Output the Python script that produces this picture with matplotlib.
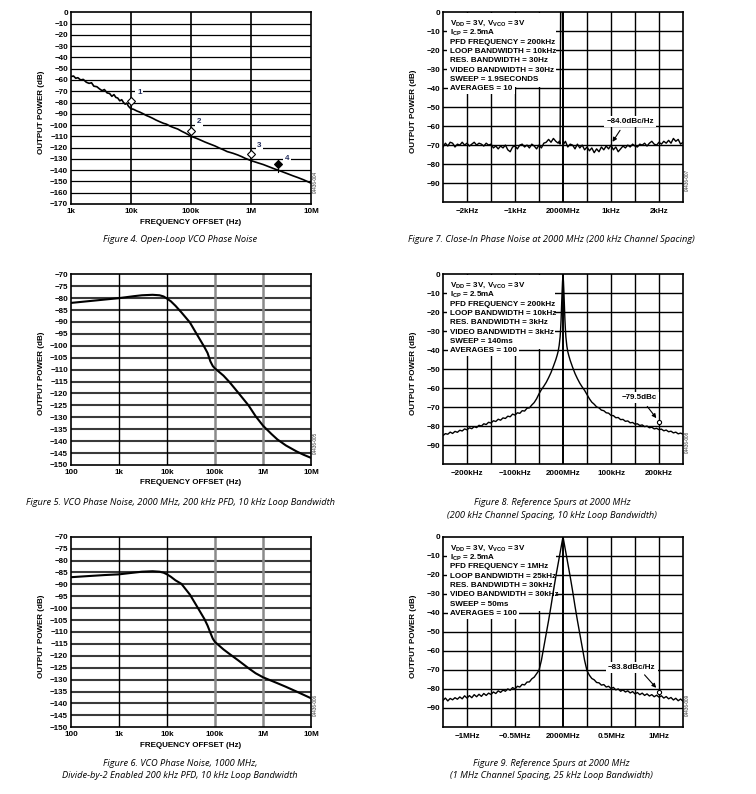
"""Datasheet page: VCO phase noise and reference spur plots (Figures 4-9)"""
import matplotlib
matplotlib.use('Agg')
import matplotlib.pyplot as plt
from matplotlib.patches import Rectangle

plt.rcParams['font.family'] = ['Liberation Sans', 'DejaVu Sans']
plt.rcParams['font.weight'] = 'bold'
plt.rcParams['mathtext.fontset'] = 'custom'
plt.rcParams['mathtext.rm'] = 'Liberation Sans:bold'
plt.rcParams['mathtext.it'] = 'Liberation Sans:bold'
plt.rcParams['mathtext.bf'] = 'Liberation Sans:bold'

W, H = 756, 794

# ---- Figure 4: open-loop VCO phase noise
f4_freq = [1000, 1100, 1200, 1300, 1450, 1600, 1800, 2000, 2200, 2400, 2700, 3000, 3300,
           3600, 4000, 4400, 4800, 5200, 5600, 6000, 6500, 7000, 7500, 8000, 8500, 9000,
           9500, 10000, 11000, 12500, 14000, 16000, 18000, 20000, 23000, 26000, 30000,
           35000, 38000, 40000, 45000, 50000, 60000, 70000, 80000, 90000, 100000, 120000,
           140000, 170000, 200000, 250000, 300000, 350000, 400000, 500000, 600000, 700000,
           800000, 1000000, 1300000, 1600000, 2000000, 2500000, 3000000, 4000000, 5000000,
           6000000, 7500000, 10000000]
f4_db = [-57, -56.5, -58.5, -58, -60, -59.5, -62, -63, -62.5, -65.5, -66, -68, -69.5,
         -68.5, -71.5, -72, -74.5, -73, -75.5, -76, -78.5, -77.5, -80, -81.5, -80.5, -83,
         -84.5, -85.5, -86, -87.5, -88.5, -90, -91.5, -92.5, -94, -95.5, -97,
         -98.5, -99, -99.5, -101, -102, -103.5, -105.5, -107, -108.5, -110, -111.5,
         -113, -115, -116.5, -118.5, -120.5, -122, -123.5, -125, -126.5, -128,
         -129.5, -131.5, -133.5, -135, -137, -139, -140.5, -143, -145,
         -146.5, -148.5, -151.5]
f4_mark_f = [10000, 100000, 1000000, 2850000]
f4_mark_db = [-78.5, -105, -125.5, -134.5]
f4_lab_f = [12600, 124000, 1270000, 3700000]
f4_lab_db = [-71.5, -97, -118.5, -129.5]
f4_lab_txt = ['1', '2', '3', '4']

# ---- Figure 5 / 6: closed-loop VCO phase noise
f5_freq = [100, 200, 500, 1000, 2000, 3000, 5000, 7000, 8500, 10000, 12000, 15000, 20000,
           30000, 40000, 50000, 60000, 70000, 80000, 90000, 100000, 150000, 200000, 300000,
           500000, 700000, 1000000, 1500000, 2000000, 3000000, 5000000, 7000000, 10000000]
f5_db = [-82, -81.4, -80.6, -80, -79.2, -78.8, -78.6, -78.8, -79.3, -80.2, -81.3, -83.2, -86,
         -90.2, -94.5, -97.8, -100.5, -103, -106.5, -108.5, -109.5, -112.5, -115.2, -119.5,
         -125, -129.5, -133.5, -137, -139.3, -141.8, -144.3, -145.7, -147]
f6_freq = [100, 200, 500, 1000, 2000, 3000, 5000, 7000, 8500, 10000, 12000, 15000, 20000,
           30000, 40000, 50000, 60000, 70000, 80000, 90000, 100000, 150000, 200000, 300000,
           500000, 700000, 1000000, 2000000, 3000000, 5000000, 10000000]
f6_db = [-87, -86.6, -86.1, -85.8, -85.1, -84.7, -84.5, -84.7, -85.1, -85.8, -86.8, -88.3, -89.8,
         -94.3, -98.5, -101.8, -104.5, -107.3, -110.3, -112.8, -114.2, -117.3, -119.2, -121.8,
         -125.2, -127.3, -129, -131.5, -133, -135, -137.8]

# ---- Figure 7: close-in phase noise (offset in kHz)
f7_off = [-2.5, -2.45, -2.4, -2.35, -2.3, -2.25, -2.2, -2.15, -2.1, -2.05, -2.0, -1.95, -1.9,
          -1.85, -1.8, -1.75, -1.7, -1.65, -1.6, -1.55, -1.5, -1.45, -1.4, -1.35, -1.3, -1.25,
          -1.2, -1.15, -1.1, -1.05, -1.0, -0.95, -0.9, -0.85, -0.8, -0.75, -0.7, -0.65, -0.6,
          -0.55, -0.5, -0.45, -0.4, -0.35, -0.3, -0.25, -0.2, -0.15, -0.1, -0.08, -0.06,
          -0.05, -0.01, 0.0, 0.05, 0.1, 0.15, 0.2, 0.25, 0.3, 0.35, 0.4, 0.45, 0.5, 0.55, 0.6,
          0.65, 0.7, 0.75, 0.8, 0.85, 0.9, 0.95, 1.0, 1.05, 1.1, 1.15, 1.2, 1.25, 1.3, 1.35,
          1.4, 1.45, 1.5, 1.55, 1.6, 1.65, 1.7, 1.75, 1.8, 1.85, 1.9, 1.95, 2.0, 2.05, 2.1,
          2.15, 2.2, 2.25, 2.3, 2.35, 2.4, 2.45, 2.5]
f7_db = [-71, -69, -70.5, -68.5, -69, -71, -69.5, -70, -68.5, -70, -69, -70.5, -69.5,
         -68.5, -70, -69, -69.5, -70.5, -69, -70, -69.5, -71.5, -70.5, -72, -70.5, -71.5,
         -70, -72.5, -73.5, -71, -70.5, -72, -70, -69.5, -71, -70, -71.5, -69.5, -70.5,
         -72, -70, -71.5, -69, -68.5, -67, -68.5, -66.5, -68, -69, -68, -69.5,
         0.5, 0.5, -70, -68, -71, -69.5, -70, -72, -69.5, -71.5, -70, -72.5, -71, -73, -71.5,
         -74, -72, -73.5, -71, -72.5, -70.5, -72, -70, -72.5, -71, -73.5, -72, -70.5, -71.5, -70,
         -71, -69.5, -70.5, -71, -69.5, -70, -69, -70.5, -69, -68, -69.5, -70, -68.5, -69.5, -68,
         -69, -67.5, -69, -66.5, -68, -67, -69.5, -68.5]

# ---- Figure 8: reference spurs, 200 kHz spacing (offset in kHz)
f8_off = [-250, -245, -240, -235, -230, -225, -220, -215, -210, -205, -200, -195, -190, -185,
          -180, -175, -170, -165, -160, -155, -150, -145, -140, -135, -130, -125, -120, -115,
          -110, -105, -100, -95, -90, -85, -80, -75, -70, -65, -60, -55, -50, -45, -40, -35,
          -30, -25, -20, -15, -12, -10, -8, -6, -5, -4, -3, -2, -1, 0, 1, 2, 3, 4, 5, 6, 8,
          10, 12, 15, 20, 25, 30, 35, 40, 45, 50, 55, 60, 65, 70, 75, 80, 85, 90, 95, 100, 105,
          110, 115, 120, 125, 130, 135, 140, 145, 150, 155, 160, 165, 170, 175, 180, 185, 190,
          195, 200, 205, 210, 215, 220, 225, 230, 235, 240, 245, 250]
f8_db = [-85.0, -84.0, -84.3, -83.2, -83.9, -82.8, -83.3, -82.2, -82.6, -81.5, -82.0, -80.9,
         -81.4, -80.3, -80.8, -79.6, -80.0, -78.8, -79.2, -78.0, -78.4, -77.2, -77.6, -76.4,
         -76.9, -75.7, -76.0, -74.8, -75.1, -73.7, -74.2, -73.0, -73.3, -71.9, -72.1, -70.6,
         -70.4, -68.9, -67.6, -65.6, -63.0, -60.8, -59.0, -57.0, -54.5, -51.8, -48.5, -45.0,
         -42.5, -40.5, -37.5, -33, -29, -24, -17, -10, -4, 0, -4, -10, -17, -24, -29, -33,
         -37.8, -40.8, -42.8, -45.4, -49.0, -52.3, -55.0, -57.4, -59.4, -61.2, -63.4, -65.6,
         -67.4, -68.5, -69.9, -70.4, -71.6, -71.9, -73.0, -73.2, -74.4, -74.5, -75.6, -75.5,
         -76.6, -76.5, -77.5, -77.3, -78.3, -78.1, -79.0, -78.8, -79.7, -79.4, -80.3, -80.0,
         -80.9, -80.6, -81.5, -81.2, -81.9, -81.6, -82.5, -82.1, -83.0, -82.7, -83.6, -83.2,
         -84.1, -83.7, -84.3]

# ---- Figure 9: reference spurs, 1 MHz spacing (offset in MHz)
f9_off = [-1.25, -1.225, -1.2, -1.175, -1.15, -1.125, -1.1, -1.075, -1.05, -1.025, -1.0,
          -0.975, -0.95, -0.925, -0.9, -0.875, -0.85, -0.825, -0.8, -0.775, -0.75, -0.725,
          -0.7, -0.675, -0.65, -0.625, -0.6, -0.575, -0.55, -0.525, -0.5, -0.475, -0.45,
          -0.425, -0.4, -0.375, -0.35, -0.325, -0.3, -0.275, -0.25, -0.225, -0.2, -0.175,
          -0.15, -0.125, -0.1, -0.075, -0.05, -0.025, 0.0, 0.025, 0.05, 0.075, 0.1, 0.125,
          0.15, 0.175, 0.2, 0.225, 0.25, 0.275, 0.3, 0.325, 0.35, 0.375, 0.4, 0.425, 0.45,
          0.475, 0.5, 0.525, 0.55, 0.575, 0.6, 0.625, 0.65, 0.675, 0.7, 0.725, 0.75, 0.775,
          0.8, 0.825, 0.85, 0.875, 0.9, 0.925, 0.95, 0.975, 1.0, 1.025, 1.05, 1.075, 1.1,
          1.125, 1.15, 1.175, 1.2, 1.225, 1.25]
f9_db = [-86.0, -84.8, -86.3, -85.0, -85.7, -84.6, -85.4, -84.2, -85.2, -83.6, -84.8,
         -83.5, -84.6, -83.0, -84.1, -82.8, -83.9, -82.4, -83.4, -82.2, -82.9, -81.6,
         -82.4, -81.0, -81.8, -80.6, -81.2, -80.0, -80.7, -79.3, -80.0, -78.6, -79.0,
         -77.6, -77.9, -76.4, -76.3, -74.7, -73.8, -72.0, -70.2, -65, -58, -51,
         -44, -36.5, -28.5, -21, -14, -7, 0, -7, -14, -21, -28.5, -36.5,
         -44, -51, -58, -65, -70.4, -72.8, -74.5, -75.2, -76.6, -76.8, -78.0, -77.7, -79.0,
         -78.6, -79.8, -79.2, -80.5, -80.0, -81.2, -80.5, -81.6, -81.0, -82.1, -81.4, -82.6, -81.9,
         -83.0, -82.2, -83.4, -82.6, -83.7, -83.0, -84.1, -83.3, -84.3, -83.6, -84.8, -84.0, -85.2,
         -84.5, -85.8, -84.9, -86.2, -85.3, -86.5]

box7 = ['V$_{\\mathrm{DD}}$ = 3V, V$_{\\mathrm{VCO}}$ = 3V', 'I$_{\\mathrm{CP}}$ = 2.5mA',
        'PFD FREQUENCY = 200kHz', 'LOOP BANDWIDTH = 10kHz', 'RES. BANDWIDTH = 30Hz',
        'VIDEO BANDWIDTH = 30Hz', 'SWEEP = 1.9SECONDS', 'AVERAGES = 10']
box8 = ['V$_{\\mathrm{DD}}$ = 3V, V$_{\\mathrm{VCO}}$ = 3V', 'I$_{\\mathrm{CP}}$ = 2.5mA',
        'PFD FREQUENCY = 200kHz', 'LOOP BANDWIDTH = 10kHz', 'RES. BANDWIDTH = 3kHz',
        'VIDEO BANDWIDTH = 3kHz', 'SWEEP = 140ms', 'AVERAGES = 100']
box9 = ['V$_{\\mathrm{DD}}$ = 3V, V$_{\\mathrm{VCO}}$ = 3V', 'I$_{\\mathrm{CP}}$ = 2.5mA',
        'PFD FREQUENCY = 1MHz', 'LOOP BANDWIDTH = 25kHz', 'RES. BANDWIDTH = 30kHz',
        'VIDEO BANDWIDTH = 30kHz', 'SWEEP = 50ms', 'AVERAGES = 100']

FS = 5.8
MINUS = '\u2212'


def rect(l, t, r, b):
    return [l / W, 1 - b / H, (r - l) / W, (b - t) / H]


def neg(v):
    return str(v).replace('-', MINUS)


def common(ax, fig, l, t, r, b, ident):
    ax.tick_params(length=0, labelsize=FS)
    ax.tick_params(axis='y', pad=2.2)
    for s in ax.spines.values():
        s.set_linewidth(1.2)
        s.set_zorder(6)
    cy = (t + b) / 2 + 4
    fig.text((l - 29.5) / W, 1 - cy / H, 'OUTPUT POWER (dB)', rotation=90,
             ha='center', va='center', fontsize=FS)
    fig.text((r + 4.5) / W, 1 - (b - 22) / H, ident, rotation=90, ha='center',
             va='center', fontsize=3.3, weight='normal', color='#333333')


def caption(fig, x, y, s):
    fig.text(x / W, 1 - y / H, s, ha='center', va='center', fontsize=6.7,
             family=['Open Sans', 'DejaVu Sans'], style='italic', weight='normal')


def log_plot(fig, box, xlim, ylim, ystep, xt, xtl, hgrid_style, vgrid_styles, ident):
    l, t, r, b = box
    ax = fig.add_axes(rect(l, t, r, b))
    ax.set_xscale('log')
    ax.set_xlim(*xlim)
    ax.set_ylim(*ylim)
    yt = list(range(ylim[0], ylim[1] + 1, ystep))
    for y in yt[1:-1]:
        ax.axhline(y, zorder=1, **hgrid_style)
    for x, st in zip(xt[1:-1], vgrid_styles):
        ax.axvline(x, zorder=1, **st)
    ax.set_yticks(yt)
    ax.set_yticklabels([neg(v) for v in yt])
    ax.set_xticks(xt)
    ax.set_xticklabels(xtl)
    ax.minorticks_off()
    ax.tick_params(axis='x', pad=3.0)
    common(ax, fig, l, t, r, b, ident)
    fig.text((l + r) / 2 / W, 1 - (b + 18) / H, 'FREQUENCY OFFSET (Hz)',
             ha='center', va='center', fontsize=FS)
    return ax


def spec_plot(fig, box, off, db, half, step, xt, xtl, lines, ident, box_right):
    l, t, r, b = box
    ax = fig.add_axes(rect(l, t, r, b))
    ax.set_xlim(-half, half)
    ax.set_ylim(-100, 0)
    for y in range(-90, 0, 10):
        ax.axhline(y, color='black', lw=1.0, zorder=1)
    n = int(round(2 * half / step))
    for i in range(1, n):
        x = -half + i * step
        ax.axvline(x, color='black', lw=1.4 if abs(x) < 1e-9 else 1.0, zorder=1)
    ax.set_yticks(list(range(-90, 1, 10)))
    ax.set_yticklabels([neg(v) for v in range(-90, 1, 10)])
    ax.set_xticks(xt)
    ax.set_xticklabels(xtl)
    ax.tick_params(axis='x', pad=4.2)
    common(ax, fig, l, t, r, b, ident)
    # white legend panel over the grid
    ax.add_patch(Rectangle((0.015, 0.607), box_right - 0.015, 0.39, transform=ax.transAxes,
                           facecolor='white', edgecolor='none', zorder=2))
    y0 = 1 - 11.5 / (b - t)
    dy = 9.3 / (b - t)
    for i, s in enumerate(lines):
        kw = {}
        if i == len(lines) - 1:
            kw['bbox'] = dict(facecolor='white', edgecolor='none', pad=1.5)
        ax.text(0.03, y0 - i * dy, s, transform=ax.transAxes, ha='left', va='center',
                fontsize=FS, zorder=5, **kw)
    ax.plot(off, db, color='black', lw=1.0, zorder=3)
    return ax


fig = plt.figure(figsize=(W / 100, H / 100), dpi=100)

# Figure 4
hg4 = dict(color='black', lw=0.9)
vg4 = [dict(color='black', lw=1.2)] * 3
ax4 = log_plot(fig, (71, 12.3, 311, 204), (1e3, 1e7), (-170, 0), 10,
               [1e3, 1e4, 1e5, 1e6, 1e7], ['1k', '10k', '100k', '1M', '10M'], hg4, vg4,
               '04436-004')
ax4.plot(f4_freq, f4_db, color='black', lw=1.2, zorder=3)
for i in range(4):
    filled = i == 3
    ax4.plot([f4_mark_f[i]] * 2, [f4_mark_db[i] + 3.5, f4_mark_db[i] - 7], color='black',
             lw=0.8, zorder=4)
    ax4.plot(f4_mark_f[i], f4_mark_db[i], marker='D', ms=4,
             mfc='black' if filled else 'white', mec='black', mew=0.8, zorder=5)
    ax4.text(f4_lab_f[i], f4_lab_db[i], f4_lab_txt[i], ha='left', va='center', fontsize=FS,
             color='#1f2a5a', zorder=5,
             bbox=dict(facecolor='white', edgecolor='none', pad=1.2))
caption(fig, 180, 240, 'Figure 4. Open-Loop VCO Phase Noise')

# Figure 5 and 6
hg5 = dict(color='#3a3a3a', lw=1.5)
vg5 = [dict(color='black', lw=1.0), dict(color='black', lw=1.0),
       dict(color='#8a8a8a', lw=1.8), dict(color='#8a8a8a', lw=1.8)]
xt5 = [1e2, 1e3, 1e4, 1e5, 1e6, 1e7]
xtl5 = ['100', '1k', '10k', '100k', '1M', '10M']
ax5 = log_plot(fig, (71, 274.3, 311, 465), (1e2, 1e7), (-150, -70), 5,
               xt5, xtl5, hg5, vg5, '04436-005')
ax5.plot(f5_freq, f5_db, color='black', lw=1.5, zorder=3)
caption(fig, 180, 503, 'Figure 5. VCO Phase Noise, 2000 MHz, 200 kHz PFD, 10 kHz Loop Bandwidth')

ax6 = log_plot(fig, (71, 536.7, 311, 727.3), (1e2, 1e7), (-150, -70), 5,
               xt5, xtl5, hg5, vg5, '04436-006')
ax6.plot(f6_freq, f6_db, color='black', lw=1.5, zorder=3)
caption(fig, 180, 764, 'Figure 6. VCO Phase Noise, 1000 MHz,')
caption(fig, 180, 776, 'Divide-by-2 Enabled 200 kHz PFD, 10 kHz Loop Bandwidth')

# Figure 7
ax7 = spec_plot(fig, (443, 12.3, 683, 202), f7_off, f7_db, 2.5, 0.5, [-2, -1, 0, 1, 2],
                [MINUS + '2kHz', MINUS + '1kHz', '2000MHz', '1kHz', '2kHz'], box7,
                '04436-007', 0.47)
ax7.annotate('', xy=(1.0, -69.5), xytext=(1.22, -61),
             arrowprops=dict(arrowstyle='-|>', color='black', lw=0.8, mutation_scale=6),
             zorder=5)
ax7.text(1.4, -57.6, MINUS + '84.0dBc/Hz', ha='center', va='center', fontsize=FS, zorder=5,
         bbox=dict(facecolor='white', edgecolor='none', pad=1.5))
caption(fig, 551, 240, 'Figure 7. Close-In Phase Noise at 2000 MHz (200 kHz Channel Spacing)')

# Figure 8
ax8 = spec_plot(fig, (443, 274.3, 683, 464), f8_off, f8_db, 250, 50, [-200, -100, 0, 100, 200],
                [MINUS + '200kHz', MINUS + '100kHz', '2000MHz', '100kHz', '200kHz'], box8,
                '04436-008', 0.467)
ax8.plot(200, -78, marker='o', ms=3, mfc='white', mec='black', mew=0.8, zorder=5)
ax8.annotate('', xy=(198, -77), xytext=(172, -68.5),
             arrowprops=dict(arrowstyle='-|>', color='black', lw=0.8, mutation_scale=6),
             zorder=5)
ax8.text(159, -64.8, MINUS + '79.5dBc', ha='center', va='center', fontsize=FS, zorder=5,
         bbox=dict(facecolor='white', edgecolor='none', pad=1.5))
caption(fig, 552, 503, 'Figure 8. Reference Spurs at 2000 MHz')
caption(fig, 552, 515, '(200 kHz Channel Spacing, 10 kHz Loop Bandwidth)')

# Figure 9
ax9 = spec_plot(fig, (443, 536.7, 683, 727), f9_off, f9_db, 1.25, 0.25, [-1, -0.5, 0, 0.5, 1],
                [MINUS + '1MHz', MINUS + '0.5MHz', '2000MHz', '0.5MHz', '1MHz'], box9,
                '04436-009', 0.47)
ax9.plot(1.0, -81.5, marker='o', ms=3, mfc='white', mec='black', mew=0.8, zorder=5)
ax9.annotate('', xy=(0.99, -80.5), xytext=(0.83, -71.5),
             arrowprops=dict(arrowstyle='-|>', color='black', lw=0.8, mutation_scale=6),
             zorder=5)
ax9.text(0.716, -68.7, MINUS + '83.8dBc/Hz', ha='center', va='center', fontsize=FS, zorder=5,
         bbox=dict(facecolor='white', edgecolor='none', pad=1.5))
caption(fig, 551, 764, 'Figure 9. Reference Spurs at 2000 MHz')
caption(fig, 551, 776, '(1 MHz Channel Spacing, 25 kHz Loop Bandwidth)')

fig.savefig('out.png', dpi=100, facecolor='white')
